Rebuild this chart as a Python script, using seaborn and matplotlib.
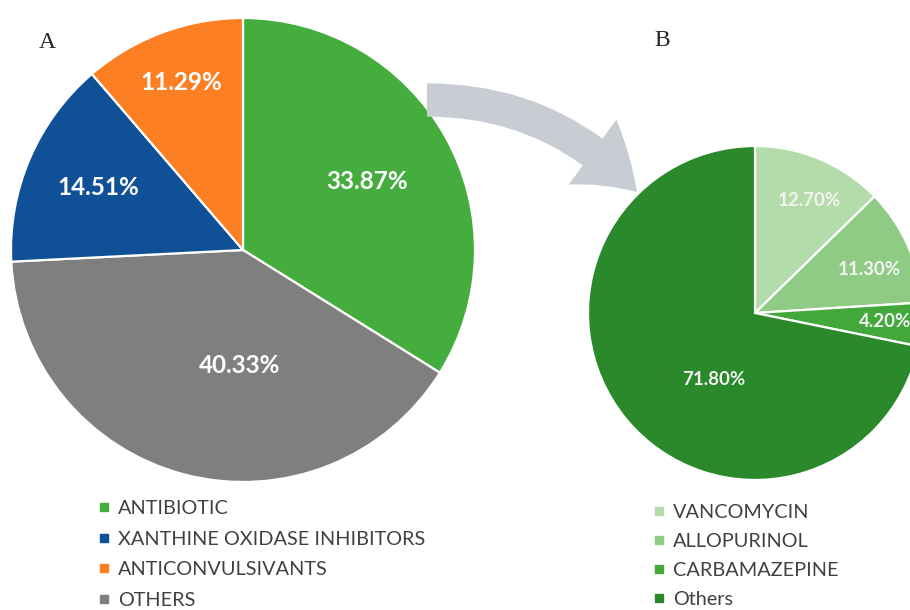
import matplotlib
matplotlib.use("Agg")
import numpy as np
import matplotlib.pyplot as plt
import seaborn as sns
from matplotlib.patches import FancyArrowPatch, ArrowStyle
from matplotlib.lines import Line2D

# Panel A: drug classes (drawn clockwise from 12 o'clock)
a_labels = ["ANTIBIOTIC", "OTHERS", "XANTHINE OXIDASE INHIBITORS", "ANTICONVULSIVANTS"]
a_values = [33.87, 40.33, 14.51, 11.29]
a_colors = ["#45ad3d", "#7f7f7f", "#0f5096", "#fd7f24"]
a_legend_order = ["ANTIBIOTIC", "XANTHINE OXIDASE INHIBITORS", "ANTICONVULSIVANTS", "OTHERS"]

# Panel B: breakdown of the antibiotic group
b_labels = ["VANCOMYCIN", "ALLOPURINOL", "CARBAMAZEPINE", "Others"]
b_values = [12.70, 11.30, 4.20, 71.80]
b_colors = ["#b4dcab", "#8fcb85", "#42a83b", "#2a892a"]

sns.set_theme(style="white")
plt.rcParams["font.family"] = ["Lato", "DejaVu Sans"]

W, H = 910, 610
fig = plt.figure(figsize=(W / 100, H / 100), dpi=100)


def px_axes(cx, cy, r):
    return fig.add_axes([(cx - r) / W, 1 - (cy + r) / H, 2 * r / W, 2 * r / H])


def draw_pie(ax, values, colors, radii, dang, fs, tcolor):
    wedges, _ = ax.pie(values, colors=colors, startangle=90, counterclock=False,
                       radius=1, wedgeprops=dict(edgecolor="white", linewidth=1.6))
    for w, v, r, d in zip(wedges, values, radii, dang):
        ang = np.deg2rad((w.theta1 + w.theta2) / 2 + d)
        ax.text(r * np.cos(ang), r * np.sin(ang), f"{v:.2f}%", ha="center", va="center",
                fontsize=fs, fontweight="bold", color=tcolor)
    ax.set_xlim(-1, 1)
    ax.set_ylim(-1, 1)
    ax.set_aspect("equal")
    ax.axis("off")
    return wedges


ax_a = px_axes(243, 250, 232)
wa = draw_pie(ax_a, a_values, a_colors, [0.61, 0.50, 0.68, 0.77], [0, 13, 0, 0], 17.5, "white")

ax_b = px_axes(755, 313, 167)
wb = draw_pie(ax_b, b_values, b_colors, [0.75, 0.73, 0.78, 0.47], [-3, -3, 0, 19], 13.5, "#f3f3f3")

# Panel letters
fig.text(47 / W, 1 - 43 / H, "A", fontsize=17, family="Liberation Serif", ha="center", va="center")
fig.text(662 / W, 1 - 40 / H, "B", fontsize=17, family="Liberation Serif", ha="center", va="center")

# Legends
def square(c):
    return Line2D([], [], marker="s", linestyle="none", markersize=5.5, color=c)

color_of = dict(zip(a_labels, a_colors))
leg_kw = dict(loc="upper left", frameon=False, fontsize=14.3, handlelength=0.5,
              handletextpad=0.45, borderpad=0, borderaxespad=0,
              labelcolor="#404040")
fig.legend([square(color_of[k]) for k in a_legend_order], a_legend_order,
           bbox_to_anchor=(99 / W, 1 - 500 / H), labelspacing=0.68, **leg_kw)
fig.legend([square(c) for c in b_colors], b_labels,
           bbox_to_anchor=(654 / W, 1 - 504 / H), labelspacing=0.60, **leg_kw)

# Curved arrow linking panel A to panel B
arrow = FancyArrowPatch((427 / W, 1 - 100 / H), (637 / W, 1 - 192 / H),
                        transform=fig.transFigure,
                        connectionstyle="arc3,rad=-0.22",
                        arrowstyle=ArrowStyle.Simple(head_length=43, head_width=58, tail_width=24),
                        color="#c8cdd3", linewidth=0, shrinkA=0, shrinkB=0)
fig.patches.append(arrow)

fig.savefig("out.png", dpi=100)
